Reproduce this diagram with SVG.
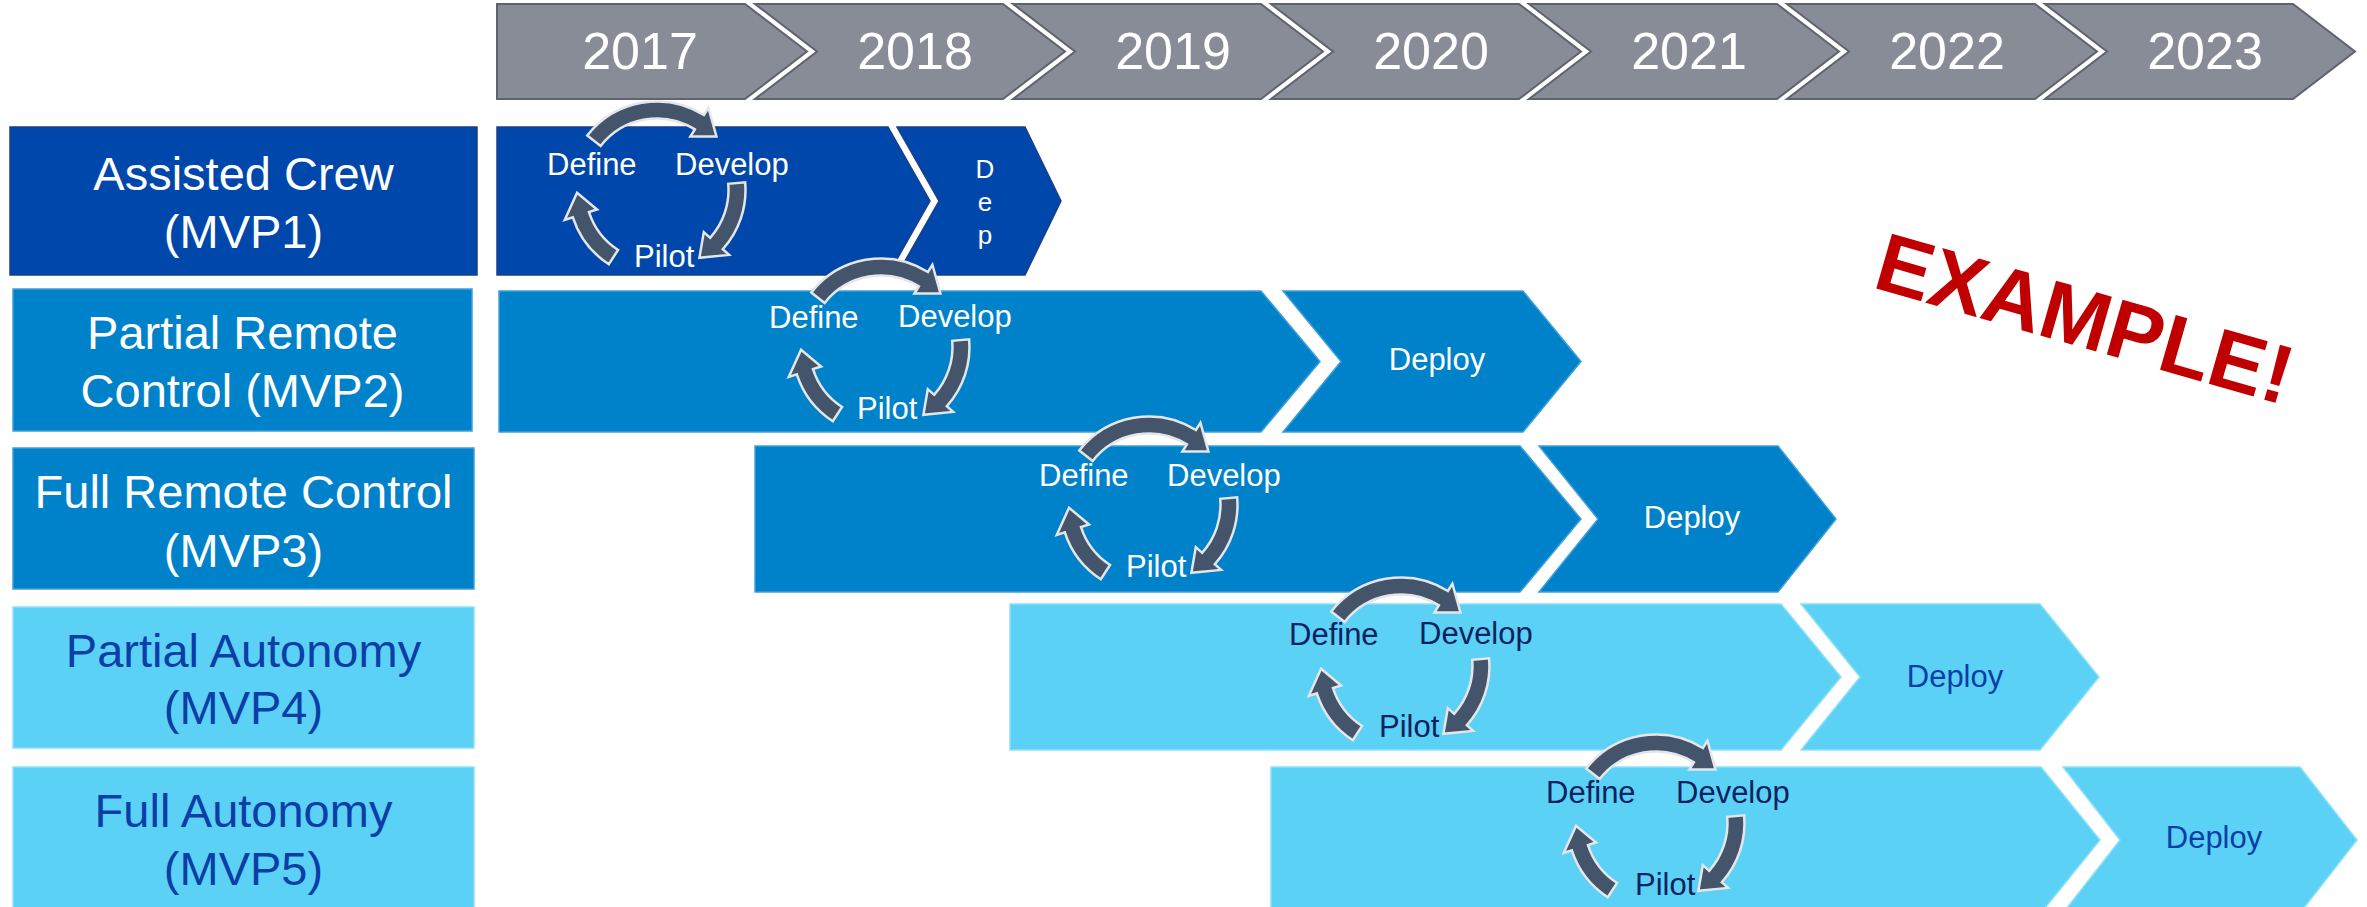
<svg xmlns="http://www.w3.org/2000/svg" width="2367" height="907" viewBox="0 0 2367 907">
<style>
text{font-family:"Liberation Sans",Arial,sans-serif}
.yrbox{fill:#888C97;stroke:#5E636F;stroke-width:2}
.yr{font-size:52px;fill:#fff;text-anchor:middle}
.c1{fill:#0047AB;stroke:#1B3E8A;stroke-width:1.5}
.c2{fill:#0082CA;stroke:#3FA0D8;stroke-width:1.5}
.c4{fill:#5BD2F5;stroke:#8FE0F8;stroke-width:1.5}
.lbl{font-size:47px;text-anchor:middle}
.w{fill:#fff}
.b{fill:#0B3EA6}
.n{fill:#0C2160}
.cy{font-size:31px}
.dep{font-size:31px;text-anchor:middle}
.arr{fill:#44546A;stroke:#E4E6EA;stroke-width:2.5;stroke-linejoin:miter}
</style>
<defs>
<g id="cyc">
<path class="arr" d="M-69.74,-54.49 A88.5,88.5 0 0 1 46.9,-75.05 L51.4,-82.26 L59.45,-53.53 L33.38,-53.42 L37.89,-60.63 A71.5,71.5 0 0 0 -56.34,-44.02 Z"/>
<path class="arr" d="M88.16,-7.71 A88.5,88.5 0 0 1 65.76,59.22 L72.08,64.89 L42.39,67.84 L46.81,42.15 L53.13,47.84 A71.5,71.5 0 0 0 71.23,-6.23 Z"/>
<path class="arr" d="M-48.2,74.22 A88.5,88.5 0 0 1 -84.17,27.35 L-92.26,29.98 L-79.95,2.79 L-59.92,19.47 L-68.0,22.09 A71.5,71.5 0 0 0 -38.94,59.97 Z"/>
</g>
</defs>
<rect width="2367" height="907" fill="#fff"/>

<g id="years">
<polygon class="yrbox" points="497,4 745,4 807,51.5 745,99 497,99"/>
<polygon class="yrbox" points="755,4 1003,4 1065,51.5 1003,99 755,99 817,51.5"/>
<polygon class="yrbox" points="1013,4 1261,4 1323,51.5 1261,99 1013,99 1075,51.5"/>
<polygon class="yrbox" points="1271,4 1519,4 1581,51.5 1519,99 1271,99 1333,51.5"/>
<polygon class="yrbox" points="1529,4 1777,4 1839,51.5 1777,99 1529,99 1591,51.5"/>
<polygon class="yrbox" points="1787,4 2035,4 2097,51.5 2035,99 1787,99 1849,51.5"/>
<polygon class="yrbox" points="2045,4 2293,4 2355,51.5 2293,99 2045,99 2107,51.5"/>
<text class="yr" x="640" y="69">2017</text>
<text class="yr" x="915" y="69">2018</text>
<text class="yr" x="1173" y="69">2019</text>
<text class="yr" x="1431" y="69">2020</text>
<text class="yr" x="1689" y="69">2021</text>
<text class="yr" x="1947" y="69">2022</text>
<text class="yr" x="2205" y="69">2023</text>
</g>

<g id="mvp1">
<rect class="c1" x="10" y="127" width="467" height="148"/>
<text class="lbl w" x="243.5" y="190">Assisted Crew</text>
<text class="lbl w" x="243.5" y="248">(MVP1)</text>
<polygon class="c1" points="497,127 888,127 930,201 888,275 497,275"/>
<polygon class="c1" points="897,127 1025,127 1061,201 1025,275 897,275 939,201"/>
<text class="w" x="985" y="178" font-size="26" text-anchor="middle">D</text>
<text class="w" x="985" y="211" font-size="26" text-anchor="middle">e</text>
<text class="w" x="985" y="244" font-size="26" text-anchor="middle">p</text>
</g>

<g id="mvp2">
<rect class="c2" x="13" y="289" width="459" height="142"/>
<text class="lbl w" x="242.5" y="349">Partial Remote</text>
<text class="lbl w" x="242.5" y="407">Control (MVP2)</text>
<polygon class="c2" points="499,291 1261,291 1320,361.5 1261,432 499,432"/>
<polygon class="c2" points="1283,291 1523,291 1581,361.5 1523,432 1283,432 1341,361.5"/>
<text class="dep w" x="1437" y="370">Deploy</text>
</g>

<g id="mvp3">
<rect class="c2" x="13" y="448" width="461" height="141"/>
<text class="lbl w" x="243.5" y="508">Full Remote Control</text>
<text class="lbl w" x="243.5" y="567">(MVP3)</text>
<polygon class="c2" points="755,446 1520,446 1581,519 1520,592 755,592"/>
<polygon class="c2" points="1539,446 1778,446 1836,519 1778,592 1539,592 1598,519"/>
<text class="dep w" x="1692" y="528">Deploy</text>
</g>

<g id="mvp4">
<rect class="c4" x="13" y="607" width="461" height="141"/>
<text class="lbl b" x="243.5" y="667">Partial Autonomy</text>
<text class="lbl b" x="243.5" y="724">(MVP4)</text>
<polygon class="c4" points="1010,604 1781,604 1841,677 1781,750 1010,750"/>
<polygon class="c4" points="1801,604 2040,604 2099,677 2040,750 1801,750 1860,677"/>
<text class="dep b" x="1955" y="687">Deploy</text>
</g>

<g id="mvp5">
<rect class="c4" x="13" y="767" width="461" height="146"/>
<text class="lbl b" x="243.5" y="827">Full Autonomy</text>
<text class="lbl b" x="243.5" y="885">(MVP5)</text>
<polygon class="c4" points="1271,767 2041,767 2100,840 2041,913 1271,913"/>
<polygon class="c4" points="2063,767 2300,767 2357,840 2300,913 2063,913 2120,840"/>
<text class="dep b" x="2214" y="848">Deploy</text>
</g>

<g id="connectors">
<use href="#cyc" transform="translate(657,190)"/>
<use href="#cyc" transform="translate(881,347)"/>
<use href="#cyc" transform="translate(1149,505)"/>
<use href="#cyc" transform="translate(1401,666)"/>
<use href="#cyc" transform="translate(1656,823)"/>
</g>

<g id="cycle-labels">
<text class="cy w" x="547" y="175">Define</text>
<text class="cy w" x="675" y="175">Develop</text>
<text class="cy w" x="634" y="267">Pilot</text>
<text class="cy w" x="769" y="328">Define</text>
<text class="cy w" x="898" y="327">Develop</text>
<text class="cy w" x="857" y="419">Pilot</text>
<text class="cy w" x="1039" y="486">Define</text>
<text class="cy w" x="1167" y="486">Develop</text>
<text class="cy w" x="1126" y="577">Pilot</text>
<text class="cy n" x="1289" y="645">Define</text>
<text class="cy n" x="1419" y="644">Develop</text>
<text class="cy n" x="1379" y="737">Pilot</text>
<text class="cy n" x="1546" y="803">Define</text>
<text class="cy n" x="1676" y="803">Develop</text>
<text class="cy n" x="1635" y="895">Pilot</text>
</g>

<g id="example">
<text x="1871" y="287" font-size="83" font-weight="bold" fill="#C00000" transform="rotate(16 1871 287)">EXAMPLE!</text>
</g>
</svg>
